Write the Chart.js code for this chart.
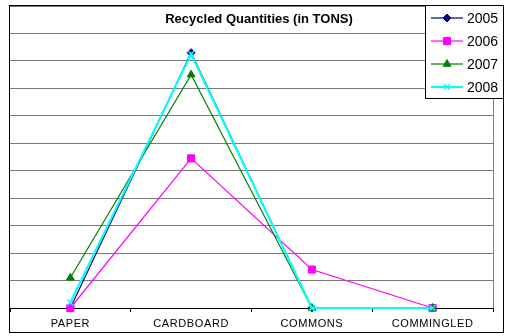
<!DOCTYPE html>
<html>
<head>
<meta charset="utf-8">
<script src="https://cdn.jsdelivr.net/npm/chart.js@4/dist/chart.umd.min.js"></script>
<style>
  html, body { margin: 0; padding: 0; background: #fff; }
  #wrap { width: 505px; height: 336px; position: relative; }
  canvas { display: block; }
</style>
</head>
<body>
<div id="wrap"><canvas id="chart" width="505" height="336"></canvas></div>
<script>
// Recycled quantities per material category, one series per year
const categories = ['PAPER', 'CARDBOARD', 'COMMONS', 'COMMINGLED'];
const years = ['2005', '2006', '2007', '2008'];
const tons2005 = [0, 9.3, 0, 0];
const tons2006 = [0, 5.45, 1.4, 0];
const tons2007 = [1.1, 8.5, 0, 0];
const tons2008 = [0.2, 9.25, 0, 0];
const yMax = 11;
const yStep = 1;
const chartTitle = 'Recycled Quantities (in TONS)';

const seriesValues = [tons2005, tons2006, tons2007, tons2008];
const seriesStyles = [
  { color: '#000080', pointStyle: 'rectRot', radius: 4, width: 1.2 },
  { color: '#ff00ff', pointStyle: 'rect', radius: 5, width: 1.2 },
  { color: '#008000', pointStyle: 'triangle', radius: 4.5, width: 1.2 },
  { color: '#00ffff', pointStyle: 'crossRot', radius: 4, width: 2 }
];

const FONT = 'Arial, "Liberation Sans", sans-serif';

const datasets = years.map((y, i) => ({
  label: y,
  data: seriesValues[i],
  borderColor: seriesStyles[i].color,
  backgroundColor: seriesStyles[i].color,
  pointBackgroundColor: seriesStyles[i].color,
  pointBorderColor: seriesStyles[i].color,
  pointStyle: seriesStyles[i].pointStyle,
  pointRadius: seriesStyles[i].radius,
  pointBorderWidth: seriesStyles[i].pointStyle === 'crossRot' ? 1.5 : 1,
  borderWidth: seriesStyles[i].width,
  tension: 0,
  fill: false,
  clip: false,
  order: years.length - i
}));

// Category labels are set with a little tracking
const tracking = {
  id: 'tracking',
  beforeDraw(chart) { chart.ctx.letterSpacing = '0.6px'; },
  afterDatasetsDraw(chart) { chart.ctx.letterSpacing = '0px'; }
};

// Outer frame, plot frame, title and the boxed legend
const decorations = {
  id: 'decorations',
  beforeDatasetsDraw(chart) {
    const { ctx, chartArea: a } = chart;
    ctx.save();
    ctx.strokeStyle = '#808080';
    ctx.lineWidth = 1;
    ctx.beginPath();
    ctx.moveTo(Math.round(a.right) + 0.5, a.top);
    ctx.lineTo(Math.round(a.right) + 0.5, a.bottom);
    ctx.stroke();
    ctx.restore();
  },
  afterDraw(chart) {
    const { ctx } = chart;
    ctx.save();
    ctx.letterSpacing = '0px';
    // frame around the whole chart
    ctx.strokeStyle = '#000';
    ctx.lineWidth = 1;
    ctx.strokeRect(9.5, 5.5, 494, 327);

    // title
    ctx.fillStyle = '#000';
    ctx.font = 'bold 13px ' + FONT;
    ctx.textAlign = 'center';
    ctx.textBaseline = 'middle';
    ctx.fillText(chartTitle, 259, 19);

    // legend box
    const lx = 425.5, ly = 5.5, lw = 78, lh = 93;
    ctx.fillStyle = '#fff';
    ctx.fillRect(lx, ly, lw, lh);
    ctx.strokeStyle = '#000';
    ctx.strokeRect(lx, ly, lw, lh);
    ctx.font = '14px ' + FONT;
    ctx.textAlign = 'left';
    ctx.textBaseline = 'middle';
    years.forEach((y, i) => {
      const st = seriesStyles[i];
      const cy = 18 + i * 23;
      ctx.strokeStyle = st.color;
      ctx.fillStyle = st.color;
      ctx.lineWidth = st.width;
      ctx.beginPath();
      ctx.moveTo(431, cy);
      ctx.lineTo(463, cy);
      ctx.stroke();
      ctx.lineWidth = st.pointStyle === 'crossRot' ? 1.5 : 1;
      Chart.helpers.drawPoint(ctx, {
        pointStyle: st.pointStyle,
        radius: st.radius,
        rotation: 0,
        borderWidth: ctx.lineWidth
      }, 447, cy);
      ctx.fillStyle = '#000';
      ctx.fillText(y, 467, cy + 1);
    });
    ctx.restore();
  }
};

new Chart(document.getElementById('chart'), {
  type: 'line',
  data: { labels: categories, datasets },
  plugins: [tracking, decorations],
  options: {
    responsive: false,
    animation: false,
    devicePixelRatio: 1,
    layout: { padding: { left: 10, right: 12, top: 5.5, bottom: 3 } },
    plugins: {
      legend: { display: false },
      title: { display: false },
      tooltip: { enabled: false }
    },
    scales: {
      x: {
        offset: true,
        grid: {
          offset: true,
          drawOnChartArea: false,
          drawTicks: true,
          tickLength: 4,
          color: '#000'
        },
        border: { color: '#000', width: 1 },
        ticks: {
          color: '#000',
          font: { family: FONT, size: 11 },
          padding: 5,
          maxRotation: 0,
          autoSkip: false
        },
        afterFit(scale) { scale.height = 25; }
      },
      y: {
        min: 0,
        max: yMax,
        ticks: { stepSize: yStep, display: false },
        grid: { color: '#7a7a7a', drawTicks: false },
        border: { display: false },
        afterFit(scale) { scale.width = 0; }
      }
    }
  }
});
</script>
</body>
</html>
